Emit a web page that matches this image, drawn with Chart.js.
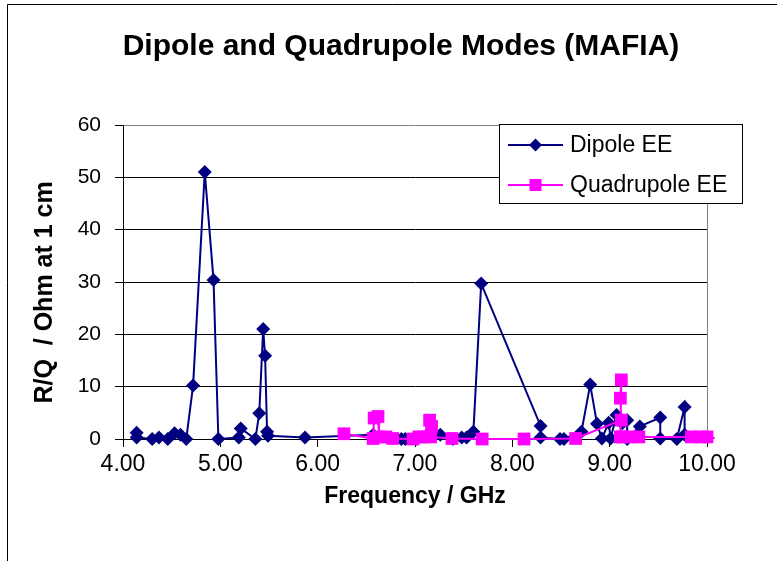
<!DOCTYPE html>
<html>
<head>
<meta charset="utf-8">
<script src="https://cdn.jsdelivr.net/npm/chart.js@4.4.1/dist/chart.umd.min.js"></script>
<style>
  html, body { margin: 0; padding: 0; background: #ffffff; }
  canvas { display: block; }
</style>
</head>
<body>
<canvas id="c" width="777" height="561"></canvas>
<script>
// ---- Data ----
const chartTitle = "Dipole and Quadrupole Modes (MAFIA)";
const xAxisTitle = "Frequency / GHz";
const yAxisTitle = "R/Q  / Ohm at 1 cm   ";
const seriesNames = ["Dipole EE", "Quadrupole EE"];

const dipoleFreq = [4.14, 4.14, 4.30, 4.37, 4.46, 4.53, 4.59, 4.65, 4.72, 4.84, 4.93, 4.98, 5.19, 5.21, 5.36, 5.40, 5.44, 5.46, 5.48, 5.49, 5.87, 6.57, 6.86, 6.90, 7.01, 7.26, 7.39, 7.48, 7.53, 7.60, 7.68, 8.29, 8.29, 8.49, 8.53, 8.71, 8.80, 8.87, 8.92, 8.99, 9.01, 9.07, 9.13, 9.18, 9.18, 9.31, 9.52, 9.52, 9.69, 9.77, 9.77];
const dipoleRQ   = [1.2, 0.3, 0, 0.3, 0, 1.1, 0.8, 0, 10.2, 51.0, 30.4, 0, 0.3, 2.0, 0, 4.9, 21.0, 15.9, 1.4, 0.6, 0.3, 0.8, 0, 0, 0, 0.8, 0, 0.3, 0.3, 1.4, 29.7, 2.5, 0.3, 0, 0, 1.4, 10.4, 2.9, 0.1, 3.1, 0.1, 4.6, 3.0, 3.6, 0, 2.4, 4.1, 0.1, 0, 6.1, 0.8];

const quadFreq = [6.27, 6.57, 6.58, 6.62, 6.63, 6.70, 6.77, 6.98, 7.04, 7.09, 7.15, 7.17, 7.16, 7.38, 7.69, 8.12, 8.65, 9.12, 9.11, 9.12, 9.11, 9.13, 9.21, 9.30, 9.84, 9.93, 10.00, 10.08];
const quadRQ   = [1.0, 0.1, 4.0, 4.3, 0.4, 0.4, 0.1, 0, 0.4, 0.4, 3.6, 2.4, 0.4, 0.1, 0, 0, 0.1, 3.6, 7.8, 11.3, 0.4, 0.4, 0.4, 0.4, 0.4, 0.4, 0.4, 0.2];

const xTicks = [4, 5, 6, 7, 8, 9, 10];
const yTicks = [0, 10, 20, 30, 40, 50, 60];

const dipoleColor = "#000080";
const quadColor = "#FF00FF";

function toPoints(xs, ys) { return xs.map((x, i) => ({ x: x, y: ys[i] })); }

const FONT = '"Liberation Sans", Arial, Helvetica, sans-serif';
Chart.defaults.font.family = FONT;
Chart.defaults.color = "#000";

// frame + plot border
const framePlugin = {
  id: "frame",
  beforeDraw(chart) {
    const ctx = chart.ctx;
    ctx.save();
    ctx.fillStyle = "#fff";
    ctx.fillRect(0, 0, chart.width, chart.height);
    ctx.strokeStyle = "#000";
    ctx.lineWidth = 1;
    ctx.beginPath();
    ctx.moveTo(7.5, chart.height);
    ctx.lineTo(7.5, 4.5);
    ctx.lineTo(chart.width, 4.5);
    ctx.stroke();
    ctx.restore();
  },
  beforeDatasetsDraw(chart) {
    const a = chart.chartArea, ctx = chart.ctx;
    ctx.save();
    ctx.strokeStyle = "#808080";
    ctx.lineWidth = 1;
    ctx.beginPath();
    const xr = Math.round(a.right) + 0.5;
    ctx.moveTo(xr, a.top);
    ctx.lineTo(xr, a.bottom);
    ctx.stroke();
    ctx.restore();
  }
};

// Excel-like legend box
const legendBoxPlugin = {
  id: "legendBox",
  afterDraw(chart) {
    const ctx = chart.ctx;
    const bx = 499.5, by = 124.5, bw = 243, bh = 79;
    ctx.save();
    ctx.fillStyle = "#fff";
    ctx.fillRect(bx, by, bw, bh);
    ctx.strokeStyle = "#000";
    ctx.lineWidth = 1;
    ctx.strokeRect(bx, by, bw, bh);
    const rows = [145, 185];
    chart.data.datasets.forEach((ds, i) => {
      const y = rows[i];
      ctx.strokeStyle = ds.borderColor;
      ctx.lineWidth = 2;
      ctx.beginPath();
      ctx.moveTo(508, y);
      ctx.lineTo(563, y);
      ctx.stroke();
      ctx.fillStyle = ds.backgroundColor;
      const cx = 535.5;
      if (ds.pointStyle === "rectRot") {
        const r = 6.5;
        ctx.beginPath();
        ctx.moveTo(cx, y - r); ctx.lineTo(cx + r, y); ctx.lineTo(cx, y + r); ctx.lineTo(cx - r, y);
        ctx.closePath(); ctx.fill();
      } else {
        ctx.fillRect(cx - 6, y - 6, 12, 12);
      }
      ctx.fillStyle = "#000";
      ctx.font = "23px " + FONT;
      ctx.textBaseline = "middle";
      ctx.textAlign = "left";
      ctx.fillText(ds.label, 570, y + 1);
    });
    ctx.restore();
  }
};

const quadRadii = quadFreq.map(f => (f > 10 ? 0 : 9));

new Chart(document.getElementById("c"), {
  type: "scatter",
  data: {
    datasets: [
      {
        label: seriesNames[0],
        data: toPoints(dipoleFreq, dipoleRQ),
        showLine: true,
        borderColor: dipoleColor,
        backgroundColor: dipoleColor,
        borderWidth: 2,
        pointStyle: "rectRot",
        pointRadius: 7,
        pointBorderWidth: 0,
        clip: false,
        order: 2
      },
      {
        label: seriesNames[1],
        data: toPoints(quadFreq, quadRQ),
        showLine: true,
        borderColor: quadColor,
        backgroundColor: quadColor,
        borderWidth: 2,
        pointStyle: "rect",
        pointRadius: quadRadii,
        pointBorderWidth: 0,
        clip: false,
        order: 1
      }
    ]
  },
  options: {
    responsive: false,
    animation: false,
    layout: { padding: { left: 25, right: 0, top: 0, bottom: 0 } },
    plugins: {
      legend: { display: false },
      tooltip: { enabled: false },
      title: {
        display: true,
        text: chartTitle,
        color: "#000",
        font: { size: 30, weight: "bold", family: FONT },
        padding: { top: 29, bottom: 60 }
      }
    },
    scales: {
      x: {
        type: "linear",
        position: "bottom",
        min: 4,
        max: 10,
        afterBuildTicks(s) { s.ticks = xTicks.map(v => ({ value: v })); },
        ticks: {
          callback: v => Number(v).toFixed(2),
          font: { size: 23 },
          color: "#000",
          padding: 4,
          maxRotation: 0,
          autoSkip: false
        },
        grid: { display: true, drawOnChartArea: false, drawTicks: true, tickLength: 8, tickColor: "#000" },
        border: { display: true, color: "#000", width: 1 },
        title: {
          display: true,
          text: xAxisTitle,
          font: { size: 23, weight: "bold" },
          color: "#000",
          padding: { top: 0, bottom: 51 }
        },
        afterFit(s) { s.height = 561 - 439; }
      },
      y: {
        type: "linear",
        position: "left",
        min: 0,
        max: 60,
        afterBuildTicks(s) { s.ticks = yTicks.map(v => ({ value: v })); },
        ticks: { font: { size: 21 }, color: "#000", padding: 14 },
        grid: {
          display: true,
          drawTicks: true,
          tickLength: 8,
          tickColor: "#000",
          color: c => (c.tick && c.tick.value === 60 ? "#808080" : "#000"),
          lineWidth: 1
        },
        border: { display: true, color: "#000", width: 1 },
        title: {
          display: true,
          text: yAxisTitle,
          font: { size: 25, weight: "bold" },
          color: "#000",
          padding: { top: 5, bottom: 0 }
        },
        afterFit(s) { s.width = 98; }
      },
      y2: {
        type: "linear",
        position: "right",
        display: true,
        grid: { display: false, drawTicks: false },
        ticks: { display: false },
        border: { display: false },
        afterFit(s) { s.width = 70; }
      }
    }
  },
  plugins: [framePlugin, legendBoxPlugin]
});
</script>
</body>
</html>
